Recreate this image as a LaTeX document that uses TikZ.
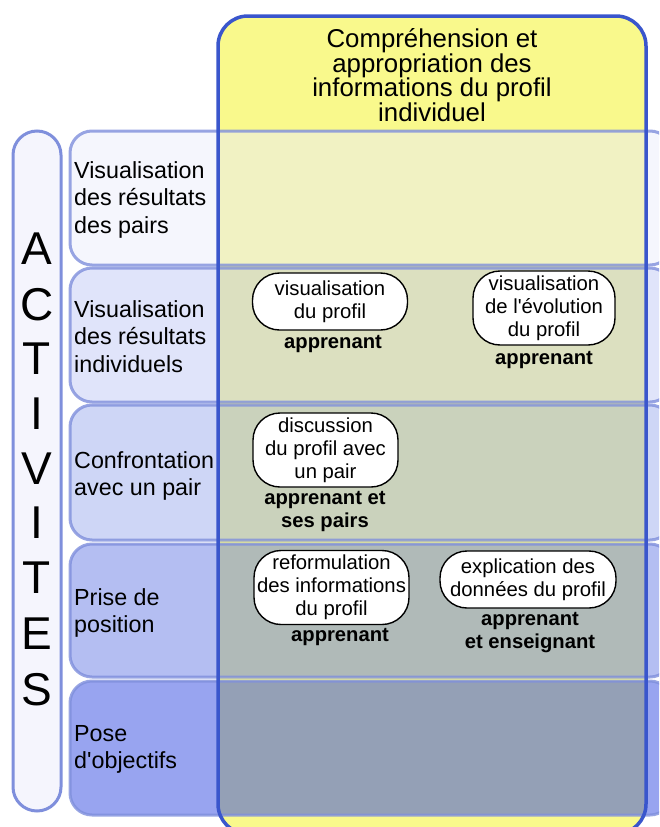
\documentclass[tikz,border=0pt]{standalone}
\usepackage{fontspec}
\setmainfont{Liberation Sans}[Ligatures=TeXOff]
\definecolor{yel}{HTML}{F9F98C}
\definecolor{colborder}{HTML}{3A56CC}
\definecolor{rowline}{HTML}{7F8FDC}
\definecolor{rA}{HTML}{EBEDFB}
\definecolor{rB}{HTML}{C1C9F5}
\definecolor{rC}{HTML}{9DADED}
\definecolor{rD}{HTML}{697DE5}
\definecolor{rE}{HTML}{3149E1}
\definecolor{actfill}{HTML}{F5F5FD}
\newcommand{\tightls}{\lineskiplimit=-30pt\relax}
\begin{document}
\begin{tikzpicture}[x=1pt,y=-1pt,
  rowbox/.style={draw=rowline, line width=3pt, draw opacity=0.8, fill opacity=0.5, rounded corners=22pt},
  rowlabel/.style={anchor=west, align=left, inner sep=0pt, font=\fontsize{23.3}{27.5}\selectfont\tightls},
  letter/.style={inner sep=0pt, font=\fontsize{46}{46}\selectfont},
  pbox/.style={draw=black, line width=1.4pt, fill=white, rounded corners=27pt, align=center, inner sep=1pt, font=\fontsize{20.3}{23}\selectfont\tightls},
  lbl/.style={align=center, inner sep=0pt, font=\bfseries\fontsize{20.2}{23}\selectfont\tightls}
]
\useasboundingbox (0,0) rectangle (659,827);
\clip (0,0) rectangle (659,827);
% yellow column fill
\fill[yel, rounded corners=30pt] (218,16) rectangle (646,834);
% activities column
\draw[draw=rowline, line width=3pt, fill=actfill, rounded corners=24pt] (13,131) rectangle (61,811);
% rows
\path[rowbox, fill=rA] (70,131) rectangle (672,265);
\path[rowbox, fill=rB] (70,268) rectangle (672,402);
\path[rowbox, fill=rC] (70,405) rectangle (672,540);
\path[rowbox, fill=rD] (70,544) rectangle (672,677);
\path[rowbox, fill=rE] (70,681) rectangle (672,815);
% yellow column border
\draw[colborder, line width=3.5pt, rounded corners=30pt] (218,16) rectangle (646,834);
% title
\node[align=center, inner sep=0pt, font=\fontsize{25.8}{24.7}\selectfont\tightls] (title) at (432,75) {Compréhension et\\appropriation des\\informations du profil\\individuel};
% letters
\node[letter] (l1) at (37,248.5) {A};
\node[letter] (l2) at (37,305) {C};
\node[letter] (l3) at (37,359) {T};
\node[letter] (l4) at (37,414) {I};
\node[letter] (l5) at (37,469) {V};
\node[letter] (l6) at (37,523) {I};
\node[letter] (l7) at (37,578) {T};
\node[letter] (l8) at (37,634) {E};
\node[letter] (l9) at (37,690) {S};
% row labels
\node[rowlabel] (t1) at (74,199.5) {Visualisation\\des résultats\\des pairs};
\node[rowlabel] (t2) at (74,336.5) {Visualisation\\des résultats\\individuels};
\node[rowlabel] (t3) at (74,476) {Confrontation\\avec un pair};
\node[rowlabel] (t4) at (74,613) {Prise de\\position};
\node[rowlabel] (t5) at (74,749.5) {Pose\\d'objectifs};
% activity boxes
\node[pbox, minimum width=155pt, minimum height=57pt] (b1) at (330,301.5) {visualisation\\du profil};
\node[lbl] (a1) at (333,344) {apprenant};
\node[pbox, minimum width=142pt, minimum height=74pt] (b2) at (544,308) {visualisation\\de l'évolution\\du profil};
\node[lbl] (a2) at (544,360) {apprenant};
\node[pbox, minimum width=145pt, minimum height=74pt] (b3) at (325.5,450) {discussion\\du profil avec\\un pair};
\node[lbl] (a3) at (325,512) {apprenant et\\ses pairs};
\node[pbox, minimum width=155pt, minimum height=74pt] (b4) at (331.5,587.5) {reformulation\\des informations\\du profil};
\node[lbl] (a4) at (340,637) {apprenant};
\node[pbox, minimum width=176pt, minimum height=57pt] (b5) at (528,579.5) {explication des\\données du profil};
\node[lbl] (a5) at (530,633) {apprenant\\et enseignant};
\end{tikzpicture}
\end{document}
